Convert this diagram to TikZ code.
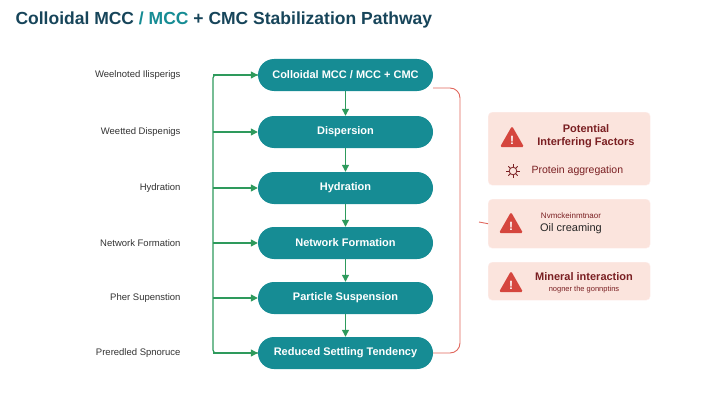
\documentclass[tikz,border=0pt]{standalone}
\usepackage{fontspec}
\setmainfont{Liberation Sans}
\usetikzlibrary{positioning,arrows.meta}
\definecolor{teal}{HTML}{168C94}
\definecolor{titleblue}{HTML}{17455A}
\definecolor{arrowgreen}{HTML}{2E9A5C}
\definecolor{cardpink}{HTML}{FBE4DD}
\definecolor{cardred}{HTML}{7A1F22}
\definecolor{warnred}{HTML}{D5463E}
\definecolor{bracered}{HTML}{E0665C}
\tikzset{
  stage/.style={rounded corners=16pt, fill=teal, text=white, minimum width=175pt,
    minimum height=32pt, font=\bfseries\fontsize{11}{13}\selectfont},
  side/.style={anchor=east, font=\fontsize{9.5}{11}\selectfont, text=black!80},
  feed/.style={arrowgreen, line width=1.2pt, -{Triangle[length=7pt,width=7pt]}},
  card/.style={rounded corners=4pt, fill=cardpink, draw=cardpink!80!red!20, anchor=north west},
  warn/.pic={\fill[warnred, rounded corners=1.5pt] (-12,9) -- (12,9) -- (0,-12) -- cycle;
    \node[text=white, font=\bfseries\fontsize{12}{12}\selectfont] at (0,2) {!};}
}
\begin{document}
\begin{tikzpicture}[x=1pt, y=-1pt]
        \useasboundingbox (0,0) rectangle (720,404);
        % title
        \node[anchor=west, font=\bfseries\fontsize{17.5}{20}\selectfont, text=titleblue] (title) at (12,20)
          {Colloidal MCC \textcolor{teal}{/ MCC} + CMC Stabilization Pathway};
        % main stages
        \node[stage] (s1) at (345.5,75) {Colloidal MCC / MCC + CMC};
        \node[stage] (s2) at (345.5,132) {Dispersion};
        \node[stage] (s3) at (345.5,188) {Hydration};
        \node[stage] (s4) at (345.5,243) {Network Formation};
        \node[stage] (s5) at (345.5,298) {Particle Suspension};
        \node[stage] (s6) at (345.5,353) {Reduced Settling Tendency};
        \foreach \a/\b in {s1/s2,s2/s3,s3/s4,s4/s5,s5/s6} {
          \draw[feed] (\a.south) -- (\b.north);
        }
        % side labels
        \node[side] (l1) at (184,75) {Weelnoted Ilisperigs};
        \node[side] (l2) at (184,132) {Weetted Dispenigs};
        \node[side] (l3) at (184,188) {Hydration};
        \node[side] (l4) at (184,243) {Network Formation};
        \node[side] (l5) at (184,298) {Pher Supenstion};
        \node[side] (l6) at (184,353) {Preredled Spnoruce};
        % green feed line
        \coordinate (top) at (213,75);
        \coordinate (bot) at (213,353);
        \draw[arrowgreen, line width=1.2pt, rounded corners=3pt] (s1.west) -- (top) -- (bot) -- (s6.west);
        \foreach \n in {1,...,6} {
          \draw[feed] (top |- s\n.west) -- (s\n.west);
        }
        % red brace
        \coordinate (e1) at (433,88);
        \coordinate (b1) at (460,88);
        \coordinate (b2) at (460,353);
        \coordinate (bm) at (479,222);
        \draw[bracered, line width=0.9pt, rounded corners=10pt] (e1) -- (b1) -- (b2) -- (s6.east);
        % cards
        \node[card, minimum width=162pt, minimum height=73pt] (c1) at (488,112) {};
        \node[card, minimum width=162pt, minimum height=49pt] (c2) at (488,199) {};
        \node[card, minimum width=162pt, minimum height=38pt] (c3) at (488,262) {};
        \draw[bracered, line width=0.9pt] (bm) -- (c2.west);
        \pic at (512,138) {warn};
        \pic at (511,224) {warn};
        \pic at (511,283) {warn};
        \node[font=\bfseries\fontsize{11}{13}\selectfont, text=cardred, align=center] (c1t) at (586,136)
          {Potential\\Interfering Factors};
        \node[font=\fontsize{10.5}{12}\selectfont, text=cardred, anchor=west] (c1s) at (528,171) {Protein aggregation};
        \foreach \i in {0,45,...,315} {
          \draw[cardred, thick] (513,171) ++(\i:3.8) -- ++(\i:2.8);
        }
        \draw[cardred, thick] (513,171) circle (3.8);
        \node[font=\fontsize{8}{9}\selectfont, text=cardred] (c2a) at (571,216) {Nvmckeinmtnaor};
        \node[font=\fontsize{11}{13}\selectfont, text=black!85] (c2b) at (571,229) {Oil creaming};
        \node[font=\bfseries\fontsize{11}{13}\selectfont, text=cardred] (c3a) at (584,277) {Mineral interaction};
        \node[font=\fontsize{7.5}{9}\selectfont, text=cardred] (c3b) at (584,290) {nogner the gonnptins};
        \end{tikzpicture}
\end{document}
